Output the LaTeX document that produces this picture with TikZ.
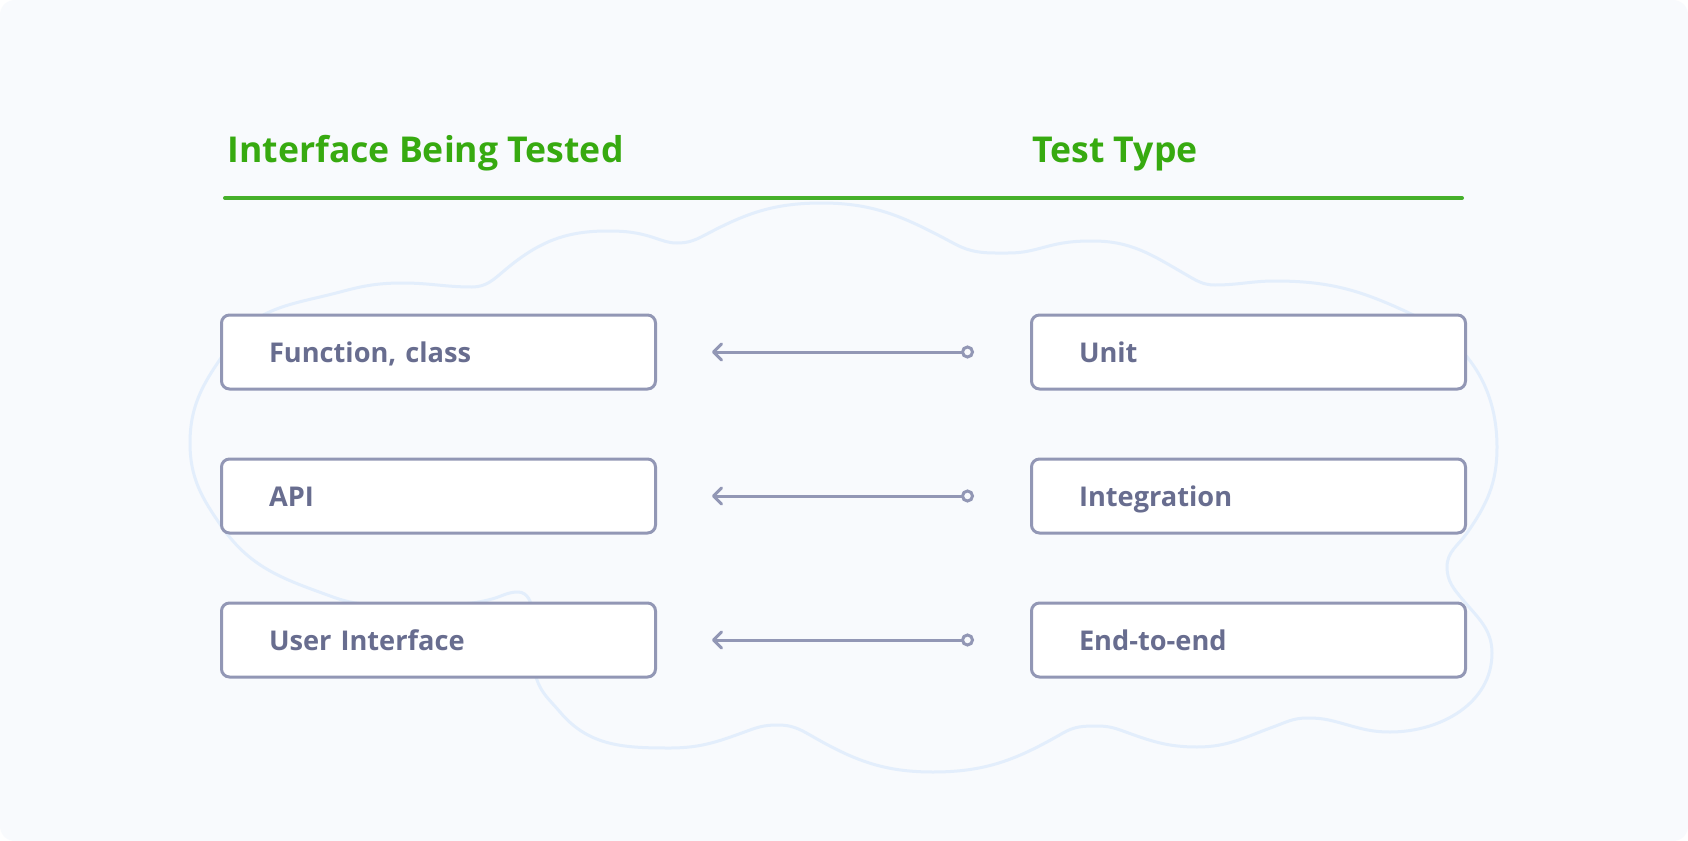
\documentclass[tikz,border=0pt]{standalone}
\usepackage{fontspec}
\setmainfont{Open Sans}
\usetikzlibrary{arrows.meta}
\definecolor{pagebg}{HTML}{F8FAFD}
\definecolor{cloudline}{HTML}{E3EEFC}
\definecolor{boxline}{HTML}{9297B5}
\definecolor{boxtext}{HTML}{686D8F}
\definecolor{headgreen}{HTML}{37AA10}
\definecolor{rulegreen}{HTML}{46B02B}
\tikzset{
  headtext/.style={anchor=base west, inner sep=0pt, text=headgreen,
    font=\fontsize{17.8pt}{21pt}\selectfont\bfseries},
  itembox/.style={draw=boxline, fill=white, line width=1.5pt, rounded corners=4pt,
    minimum height=37pt, text width=169.5pt, inner xsep=23.75pt, align=left,
    text height=10pt, text depth=0pt, text=boxtext,
    font=\fontsize{13.6pt}{16pt}\selectfont\bfseries},
  conn/.style={draw=boxline, line width=1.5pt, line cap=round,
    {Straight Barb[length=4pt,width=8pt,round]}-{Circle[open,length=6.5pt,width=6.5pt,fill=pagebg]},
    shorten >=28pt, shorten <=27.5pt},
  cloud/.style={draw=cloudline, line width=1.5pt},
}
\begin{document}
\begin{tikzpicture}[x=0.5pt,y=-0.5pt]
  % page
  \useasboundingbox (0,0) rectangle (1688,841);
  \fill[white] (0,0) rectangle (1688,841);
  \fill[pagebg, rounded corners=7.5pt] (0,0) rectangle (1688,841);

  % cloud outline behind the boxes (clockwise from the upper-left notch)
  \draw[cloud] (472,287)
    to[out=0,in=220] (505,270) to[out=40,in=180] (607,231)
    to[out=0,in=162] (655,238) to[out=-18,in=180] (677,243)
    to[out=0,in=208] (705,235) to[out=28,in=180] (822,203)
    to[out=0,in=152] (955,244) to[out=-28,in=180] (1008,253)
    to[out=0,in=195] (1045,247) to[out=15,in=180] (1093,241)
    to[out=0,in=150] (1185,274) to[out=-30,in=180] (1215,285)
    to[out=0,in=180] (1275,281) to[out=0,in=155] (1407,312)
    to[out=-25,in=90] (1497,447) to[out=-90,in=55] (1467,533)
    to[out=235,in=90] (1447,567) to[out=-90,in=130] (1463,600)
    to[out=-50,in=90] (1492,653) to[out=-90,in=0] (1390,732)
    to[out=180,in=-15] (1337,722) to[out=165,in=0] (1307,718)
    to[out=180,in=20] (1273,727) to[out=200,in=0] (1197,747)
    to[out=180,in=-20] (1123,731) to[out=160,in=0] (1097,726)
    to[out=180,in=30] (1063,733) to[out=210,in=0] (933,772)
    to[out=180,in=-30] (810,735) to[out=150,in=0] (778,725)
    to[out=180,in=20] (750,730) to[out=200,in=0] (670,748)
    to[out=180,in=-50] (560,712) to[out=130,in=-70] (537,680)
    to[out=110,in=-90] (532,612) to[out=90,in=0] (518,592)
    to[out=180,in=15] (492,599) to[out=195,in=0] (420,604)
    to[out=180,in=-20] (333,597) to[out=160,in=-55] (222,527)
    to[out=125,in=-90] (190,443) to[out=90,in=235] (230,345)
    to[out=55,in=195] (340,292) to[out=15,in=180] (403,283)
    to[out=0,in=180] (472,287) -- cycle;

  % column headings and rule
  \node[headtext] (hleft) at (227,162) {Interface Being Tested};
  \node[headtext] (hright) at (1032,162) {Test Type};
  \coordinate (ruleL) at (225,198);
  \coordinate (ruleR) at (1462,198);
  \draw[rulegreen, line width=2pt, line cap=round] (ruleL) -- (ruleR);

  % interface boxes
  \node[itembox] (func) at (438.5,352) {Function, class};
  \node[itembox] (api)  at (438.5,496) {API};
  \node[itembox] (ui)   at (438.5,640) {User Interface};

  % test type boxes
  \node[itembox] (unit) at (1248.5,352) {Unit};
  \node[itembox] (integ) at (1248.5,496) {Integration};
  \node[itembox] (e2e)  at (1248.5,640) {End-to-end};

  % connectors
  \draw[conn] (func.east) -- (unit.west);
  \draw[conn] (api.east) -- (integ.west);
  \draw[conn] (ui.east) -- (e2e.west);
\end{tikzpicture}
\end{document}
